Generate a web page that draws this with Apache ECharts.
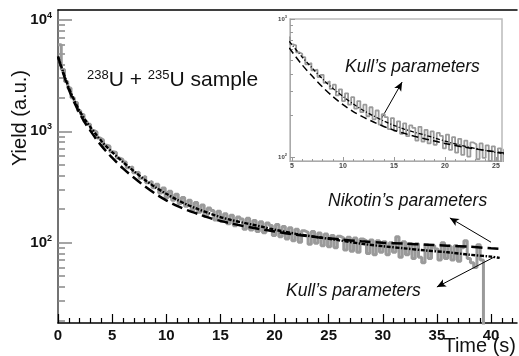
<!DOCTYPE html>
<html>
<head>
<meta charset="UTF-8">
<title>Yield vs time</title>
<script src="https://cdn.jsdelivr.net/npm/echarts@6/dist/echarts.min.js"></script>
<style>
  html, body { margin: 0; padding: 0; background: #fff; }
  #chart { width: 519px; height: 356px; }
</style>
</head>
<body>
<div id="chart"></div>
<script>
// measured histogram (0.3 s bins starting at 0 s)
var binStart = 0;
var binWidth = 0.3;
var counts = [
  6000, 3600, 2800, 2450, 2000, 1820, 1530, 1420, 1220, 1160,
  1020, 985, 870, 835, 750, 735, 655, 645, 575, 560,
  530, 470, 480, 425, 430, 380, 395, 345, 355, 312,
  335, 280, 310, 255, 290, 240, 272, 225, 255, 212,
  240, 198, 230, 188, 218, 172, 205, 195, 160, 192,
  155, 182, 148, 176, 142, 170, 163, 132, 166, 130,
  158, 126, 154, 123, 150, 143, 116, 146, 113, 140,
  108, 136, 104, 132, 101, 128, 124, 97, 126, 99,
  122, 94, 120, 92, 116, 90, 114, 110, 86, 112,
  84, 110, 82, 108, 104, 80, 106, 78, 104, 82,
  102, 78, 100, 82, 113, 74, 102, 78, 98, 72,
  98, 74, 66, 96, 72, 94, 88, 70, 100, 72,
  93, 70, 94, 68, 90, 104, 72, 66, 60, 96,
  70
];
var countsEnd = 1;   // histogram falls to zero after the last bin

// fitted curves
var kullT = [0, 0.25, 0.5, 0.75, 1, 1.5, 2, 2.5, 3, 3.5, 4, 4.5, 5, 6, 7, 8, 9, 10, 11, 12, 13, 14, 15, 16, 17, 18, 19, 20, 22, 24, 26, 28, 30, 32, 34, 36, 38, 40, 40.8];
var kullY = [4700, 3950, 3350, 2850, 2450, 1900, 1520, 1270, 1090, 940, 820, 725, 650, 530, 440, 368, 315, 275, 243, 218, 199, 183, 170, 160, 152, 145, 138, 131, 120, 112, 105, 98, 93, 89, 85, 82, 78, 75, 73];
var nikT = [0, 0.25, 0.5, 0.75, 1, 1.5, 2, 2.5, 3, 3.5, 4, 4.5, 5, 6, 7, 8, 9, 10, 11, 12, 13, 14, 15, 16, 17, 18, 19, 20, 22, 24, 26, 28, 30, 32, 34, 36, 38, 40, 40.8];
var nikY = [4700, 3900, 3280, 2780, 2380, 1830, 1450, 1190, 1010, 860, 745, 655, 580, 465, 385, 322, 275, 240, 214, 195, 180, 167, 157, 149, 142, 136, 131, 126, 118, 112, 107, 103, 100, 98, 96, 94, 92, 89, 88];

// axis ticks
var xMajor = [0, 5, 10, 15, 20, 25, 30, 35, 40];
var xMinor = [1, 2, 3, 4, 6, 7, 8, 9, 11, 12, 13, 14, 16, 17, 18, 19, 21, 22, 23, 24, 26, 27, 28, 29, 31, 32, 33, 34, 36, 37, 38, 39, 41, 42];
var yMajor = [100, 1000, 10000];
var yMinor = [20, 30, 40, 50, 60, 70, 80, 90, 200, 300, 400, 500, 600, 700, 800, 900, 2000, 3000, 4000, 5000, 6000, 7000, 8000, 9000];
var inXMajor = [5, 10, 15, 20, 25];
var inXMinor = [6, 7, 8, 9, 11, 12, 13, 14, 16, 17, 18, 19, 21, 22, 23, 24];
var inYMajor = [100, 1000];
var inYMinor = [200, 300, 400, 500, 600, 700, 800, 900];

var histData = [];
for (var i = 0; i < counts.length; i++) {
    histData.push([binStart + i * binWidth, counts[i]]);
}
histData.push([binStart + counts.length * binWidth, counts[counts.length - 1]]);
histData.push([binStart + counts.length * binWidth, countsEnd]);

function pairs(xs, ys) {
    var out = [];
    for (var i = 0; i < xs.length; i++) out.push([xs[i], ys[i]]);
    return out;
}
var kullData = pairs(kullT, kullY);
var nikData = pairs(nikT, nikY);

var FONT = 'Liberation Sans, Arial, sans-serif';

function powLabel(v) {
    var e = Math.round(Math.log(v) / Math.LN10);
    return '{b|10}{s|' + e + '}';
}

var chart = echarts.init(document.getElementById('chart'));

var option = {
    animation: false,
    backgroundColor: '#fff',
    textStyle: { fontFamily: FONT },
    grid: [
        { left: 58, right: 2, top: 10, bottom: 33 },
        { left: 290, width: 212, top: 19, height: 142, show: true,
          borderColor: '#bbb', borderWidth: 1.5, backgroundColor: '#fff', z: 5 }
    ],
    xAxis: [
        { gridIndex: 0, type: 'value', min: 0, max: 42.4, position: 'bottom',
          axisLine: { lineStyle: { color: '#000', width: 1.5 } },
          axisTick: { inside: true, length: 9, customValues: xMajor, lineStyle: { color: '#000', width: 1.2 } },
          axisLabel: { customValues: xMajor, margin: 5, fontSize: 15, fontWeight: 'bold', color: '#111', fontFamily: FONT },
          splitLine: { show: false } },
        { gridIndex: 0, type: 'value', min: 0, max: 42.4, position: 'bottom',
          axisLine: { show: false },
          axisTick: { inside: true, length: 5, customValues: xMinor, lineStyle: { color: '#000', width: 1.2 } },
          axisLabel: { show: false }, splitLine: { show: false } },
        { gridIndex: 0, type: 'value', min: 0, max: 42.4, position: 'top',
          axisLine: { lineStyle: { color: '#000', width: 1.5 } },
          axisTick: { show: false }, axisLabel: { show: false }, splitLine: { show: false } },
        { gridIndex: 1, type: 'value', min: 4.8, max: 25.6, position: 'bottom',
          axisLine: { lineStyle: { color: '#aaa', width: 1 } },
          axisTick: { inside: true, length: 4, customValues: inXMajor, lineStyle: { color: '#999' } },
          axisLabel: { customValues: inXMajor, margin: 2, fontSize: 7, color: '#444', fontWeight: 'bold' },
          splitLine: { show: false }, z: 6 },
        { gridIndex: 1, type: 'value', min: 4.8, max: 25.6, position: 'bottom',
          axisLine: { show: false },
          axisTick: { inside: true, length: 2, customValues: inXMinor, lineStyle: { color: '#999' } },
          axisLabel: { show: false }, splitLine: { show: false }, z: 6 }
    ],
    yAxis: [
        { gridIndex: 0, type: 'log', min: 19, max: 12300, position: 'left',
          axisLine: { show: true, lineStyle: { color: '#444', width: 1.5 } },
          axisTick: { show: true, inside: true, length: 14, customValues: yMajor, lineStyle: { color: '#888', width: 1.5 } },
          axisLabel: { customValues: yMajor, margin: 6, formatter: powLabel,
              rich: {
                  b: { fontSize: 15, fontWeight: 'bold', color: '#111', fontFamily: FONT },
                  s: { fontSize: 9, fontWeight: 'bold', color: '#111', fontFamily: FONT, verticalAlign: 'top', padding: [0, 0, 9, 0] }
              } },
          splitLine: { show: false } },
        { gridIndex: 0, type: 'log', min: 19, max: 12300, position: 'left',
          axisLine: { show: false },
          axisTick: { show: true, inside: true, length: 7, customValues: yMinor, lineStyle: { color: '#888', width: 1.5 } },
          axisLabel: { show: false }, splitLine: { show: false } },
        { gridIndex: 1, type: 'log', min: 94, max: 1000, position: 'left',
          axisLine: { show: true, lineStyle: { color: '#aaa', width: 1 } },
          axisTick: { show: true, inside: true, length: 5, customValues: inYMajor, lineStyle: { color: '#999' } },
          axisLabel: { customValues: inYMajor, margin: 3, formatter: powLabel,
              rich: {
                  b: { fontSize: 6, fontWeight: 'bold', color: '#444' },
                  s: { fontSize: 4, fontWeight: 'bold', color: '#444', verticalAlign: 'top', padding: [0, 0, 4, 0] }
              } },
          splitLine: { show: false }, z: 6 },
        { gridIndex: 1, type: 'log', min: 94, max: 1000, position: 'left',
          axisLine: { show: false },
          axisTick: { show: true, inside: true, length: 3, customValues: inYMinor, lineStyle: { color: '#999' } },
          axisLabel: { show: false }, splitLine: { show: false }, z: 6 }
    ],
    series: [
        { name: 'data', type: 'line', xAxisIndex: 0, yAxisIndex: 0, data: histData, step: 'end',
          showSymbol: false, clip: true, lineStyle: { color: '#9a9a9a', width: 3 }, z: 2 },
        { name: 'Nikotin', type: 'line', xAxisIndex: 0, yAxisIndex: 0, data: nikData, smooth: 0.3,
          showSymbol: false, clip: true, lineStyle: { color: '#000', width: 2.5, type: [11, 5] }, z: 3 },
        { name: 'Kull', type: 'line', xAxisIndex: 0, yAxisIndex: 0, data: kullData, smooth: 0.3,
          showSymbol: false, clip: true, lineStyle: { color: '#000', width: 2.4, type: [4, 1.5, 1.5, 1.5] }, z: 4,
          markLine: {
              silent: true, symbol: ['none', 'arrow'], symbolSize: [6, 9],
              label: { show: false },
              lineStyle: { color: '#000', width: 1, type: 'solid' },
              data: [
                  [{ coord: [40.0, 101] }, { coord: [36.2, 167] }],
                  [{ coord: [40.3, 74.4] }, { coord: [35.0, 40] }]
              ]
          } },
        { name: 'data inset', type: 'line', xAxisIndex: 3, yAxisIndex: 2, data: histData, step: 'end',
          showSymbol: false, clip: true, lineStyle: { color: '#9a9a9a', width: 1.8 }, z: 7 },
        { name: 'Nikotin inset', type: 'line', xAxisIndex: 3, yAxisIndex: 2, data: nikData, smooth: 0.3,
          showSymbol: false, clip: true, lineStyle: { color: '#000', width: 1.5, type: [7, 4] }, z: 8 },
        { name: 'Kull inset', type: 'line', xAxisIndex: 3, yAxisIndex: 2, data: kullData, smooth: 0.3,
          showSymbol: false, clip: true, lineStyle: { color: '#000', width: 1.3, type: [4, 2, 1, 2] }, z: 9,
          markLine: {
              silent: true, symbol: ['none', 'arrow'], symbolSize: [6, 9],
              label: { show: false },
              lineStyle: { color: '#000', width: 1, type: 'solid' },
              data: [
                  [{ coord: [13.8, 192] }, { coord: [15.8, 350] }]
              ]
          } }
    ],
    graphic: [
        { type: 'text', x: 20, y: 118, rotation: Math.PI / 2,
          style: { text: 'Yield (a.u.)', font: '20px ' + FONT, fill: '#111', align: 'center', verticalAlign: 'middle' } },
        { type: 'text', x: 516, y: 346,
          style: { text: 'Time (s)', font: '20px ' + FONT, fill: '#111', align: 'right', verticalAlign: 'middle' } },
        { type: 'text', x: 87, y: 80,
          style: { text: '{s|238}{n|U + }{s|235}{n|U sample}', verticalAlign: 'middle',
              rich: {
                  n: { fontSize: 21, fontFamily: FONT, fill: '#111' },
                  s: { fontSize: 13, fontFamily: FONT, fill: '#111', verticalAlign: 'top', padding: [0, 0, 10, 0] }
              } } },
        { type: 'text', x: 328, y: 201,
          style: { text: 'Nikotin\u2019s parameters', font: 'italic 17.5px ' + FONT, fill: '#111', verticalAlign: 'middle' } },
        { type: 'text', x: 286, y: 291,
          style: { text: 'Kull\u2019s parameters', font: 'italic 17.5px ' + FONT, fill: '#111', verticalAlign: 'middle' } },
        { type: 'text', x: 345, y: 67, z: 100,
          style: { text: 'Kull\u2019s parameters', font: 'italic 17.5px ' + FONT, fill: '#111', verticalAlign: 'middle' } }
    ]
};

chart.setOption(option);
</script>
</body>
</html>
